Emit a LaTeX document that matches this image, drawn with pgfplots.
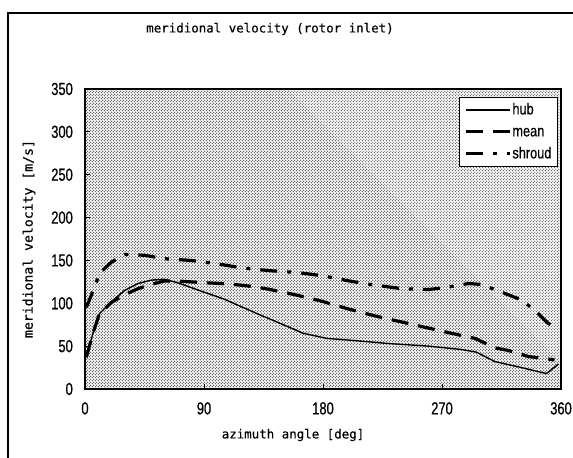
\documentclass[border=0pt]{standalone}
\usepackage{fontspec}
\usepackage{pgfplots}
\pgfplotsset{compat=1.18}
\usetikzlibrary{patterns}
\newfontfamily\tickfont{Liberation Sans}[FakeStretch=0.74, FakeBold=0.6]
\newfontfamily\legfont{Liberation Sans}[FakeStretch=0.8, FakeBold=0.4]
\newfontfamily\labfont{DejaVu Sans Mono}[FakeBold=0.4]
\pgfdeclarepatternformonly{stip}{\pgfqpoint{-0.1bp}{-0.1bp}}{\pgfqpoint{3.1bp}{3.1bp}}{\pgfqpoint{3bp}{3bp}}{%
  \pgfpathcircle{\pgfqpoint{0.75bp}{0.75bp}}{0.52bp}%
  \pgfpathcircle{\pgfqpoint{2.25bp}{2.25bp}}{0.52bp}%
  \pgfusepath{fill}}
\begin{document}
\begin{tikzpicture}[x=1bp,y=1bp]
\useasboundingbox (0,0) rectangle (573,458);
\fill[white] (0,0) rectangle (573,458);
\draw[line width=1.5bp] (8,-30) rectangle (640,445);
\node[font=\labfont\fontsize{12.5}{14}\selectfont, inner sep=0pt, anchor=center] at (270,429) {meridional velocity (rotor inlet)};
\begin{axis}[
  at={(85bp,69bp)}, anchor=south west,
  scale only axis, width=476bp, height=300bp,
  xmin=0, xmax=360, ymin=0, ymax=350,
  xtick={0,90,180,270,360}, ytick={0,50,...,350},
  tick align=inside, major tick length=5bp,
  xtick pos=bottom, ytick pos=left,
  tick style={black, line width=1bp},
  axis line style={line width=1.6bp},
  axis background/.style={preaction={fill=white}, pattern=stip, pattern color=black!80},
  /pgf/number format/assume math mode=true,
  ticklabel style={font=\tickfont\fontsize{17.5}{17.5}\selectfont},
  yticklabel style={anchor=east, inner sep=0pt, xshift=-12bp},
  xticklabel style={anchor=north, inner sep=0pt, yshift=-13bp},
  xlabel={azimuth angle [deg]},
  xlabel style={font=\labfont\fontsize{12.5}{14}\selectfont, at={(rel axis cs:0.437,-0.1533)}, anchor=center, inner sep=0pt},
  ylabel={meridional velocity [m/s]},
  ylabel style={font=\labfont\fontsize{13.2}{14}\selectfont, at={(rel axis cs:-0.1176,0.5)}, anchor=center, rotate=0, inner sep=0pt},
  legend style={at={(rel axis cs:0.9937,0.974)}, anchor=north east, draw=black, fill=white, line width=1.2bp,
    inner xsep=5bp, inner ysep=4bp, row sep=5bp,
    font=\legfont\fontsize{16}{16}\selectfont,
    nodes={inner sep=1bp, text height=12bp, text depth=3bp}},
  legend cell align=left,
  legend image code/.code={\draw[#1] (0bp,0bp) -- (44bp,0bp);},
]
\addplot[black, line width=1.4bp] coordinates {
(1,37) (6,65) (11,88) (20,102) (30,115) (40,123) (50,127) (60,128) (70,124) (90,113) (105,105) (130,88) (150,75) (165,65) (183,59) (200,57) (230,53) (260,50) (285,46) (296,43) (310,32) (330,25) (349,18) (358,29)
};
\addlegendentry{hub}
\addplot[black, line width=3.2bp, dash pattern=on 17bp off 10bp] coordinates {
(1,37) (6,65) (11,88) (20,101) (30,110) (40,117) (50,122) (60,126) (70,126) (90,124) (110,122.5) (130,119) (150,113) (170,106) (180,102) (200,93) (220,85) (240,78) (260,71) (280,64) (295,59) (310,48) (320,45) (335,38) (355,34)
};
\addlegendentry{mean}
\addplot[black, line width=3.2bp, dash pattern=on 17bp off 10bp on 4bp off 10bp] coordinates {
(1,95) (7,118) (11,135) (20,148) (30,157) (45,156) (60,152) (80,150) (100,146) (120,141) (140,138) (160,136) (180,132) (200,126) (220,121) (240,117) (260,116) (275,119) (290,123) (300,122) (310,116) (330,104) (340,92) (350,77) (358,70)
};
\addlegendentry{shroud}
\end{axis}
\end{tikzpicture}
\end{document}
